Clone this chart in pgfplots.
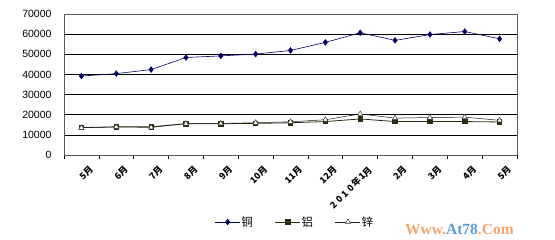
\documentclass[border=0pt]{standalone}
\usepackage{pgfplots}
\pgfplotsset{compat=1.18}
\usepackage{fontspec}
\setmainfont{Liberation Sans}
\newfontfamily\cjk{Noto Sans CJK SC}
\newfontfamily\wm{Liberation Serif}
\definecolor{cu}{HTML}{000066}
\definecolor{al}{HTML}{2B2B10}
\definecolor{zn}{HTML}{1A1A1A}
\definecolor{wmor}{HTML}{F4A468}
\definecolor{wmbl}{HTML}{5B9BD5}
\begin{document}
\begin{tikzpicture}[x=1pt,y=1pt]
\path[use as bounding box] (0,0) rectangle (555,240);
\begin{axis}[
  at={(64pt,85pt)}, anchor=south west,
  scale only axis, width=453pt, height=141pt,
  xmin=0.5, xmax=13.5, ymin=0, ymax=70000,
  ytick={0,10000,...,70000},
  scaled y ticks=false,
  yticklabel style={font=\fontsize{10.5}{11}\selectfont, /pgf/number format/1000 sep={}, xshift=-9pt},
  /pgf/number format/assume math mode=true,
  ymajorgrids, grid style={black, line width=0.7pt},
  major y tick style={draw=none},
  xtick={0.5,1.5,...,13.5}, xticklabels={},
  major x tick style={black, line width=0.6pt},
  xtick align=outside, major tick length=4pt,
  extra x ticks={1,...,13},
  extra x tick labels={5月,6月,7月,8月,9月,10月,11月,12月,2\hspace{2.5pt}0\hspace{2.5pt}1\hspace{2.5pt}0\hspace{1pt}年\hspace{1pt}1月,2月,3月,4月,5月},
  extra x tick style={major tick length=0pt, grid=none,
     tick label style={font=\cjk\fontsize{9}{9}\selectfont\bfseries, rotate=45, anchor=north east, inner sep=0pt, xshift=-2pt, yshift=-12pt}},
  axis line style={draw=gray!70!black, line width=0.7pt},
  axis x line*=bottom,
  legend columns=3,
  legend style={draw=none, fill=none, at={(0.51,-0.475)}, anchor=center,
     font=\cjk\fontsize{11.5}{12}\selectfont, /tikz/every even column/.style={column sep=20pt},
     /tikz/every odd column/.style={column sep=-1pt}},
  legend image code/.code={\draw[mark repeat=2,mark phase=2] plot coordinates {(0pt,0pt)(12.5pt,0pt)(25pt,0pt)};},
  clip=false,
]
\addplot[cu, line width=0.6pt, mark=diamond*, mark size=2.8pt, mark options={fill=cu, draw=cu}] coordinates {
(1,39200)(2,40400)(3,42400)(4,48400)(5,49200)(6,50100)(7,51900)(8,55900)(9,60700)(10,56900)(11,59800)(12,61300)(13,57700)};
\addlegendentry{铜}
\addplot[al, line width=0.8pt, mark=square*, mark size=2.2pt, mark options={fill=al, draw=al}] coordinates {
(1,13600)(2,14000)(3,14000)(4,15500)(5,15500)(6,15700)(7,16000)(8,16600)(9,17900)(10,16600)(11,16600)(12,16600)(13,16400)};
\addlegendentry{铝}
\addplot[zn, line width=0.5pt, mark=triangle*, mark size=3pt, mark options={fill=white, draw=black!80!olive}] coordinates {
(1,13500)(2,13900)(3,13700)(4,15600)(5,15700)(6,16000)(7,16500)(8,17500)(9,20400)(10,18300)(11,18600)(12,18800)(13,17200)};
\addlegendentry{锌}
\end{axis}
\draw[gray!70!black, line width=0.7pt] (64,226) -- (517,226) -- (517,85);
\node[anchor=west, inner sep=0pt] at (405,11) {\wm\bfseries\fontsize{15.5}{16}\selectfont\textcolor{wmor}{Www.}\textcolor{wmbl}{At78}\textcolor{wmor}{.Com}};
\end{tikzpicture}
\end{document}
